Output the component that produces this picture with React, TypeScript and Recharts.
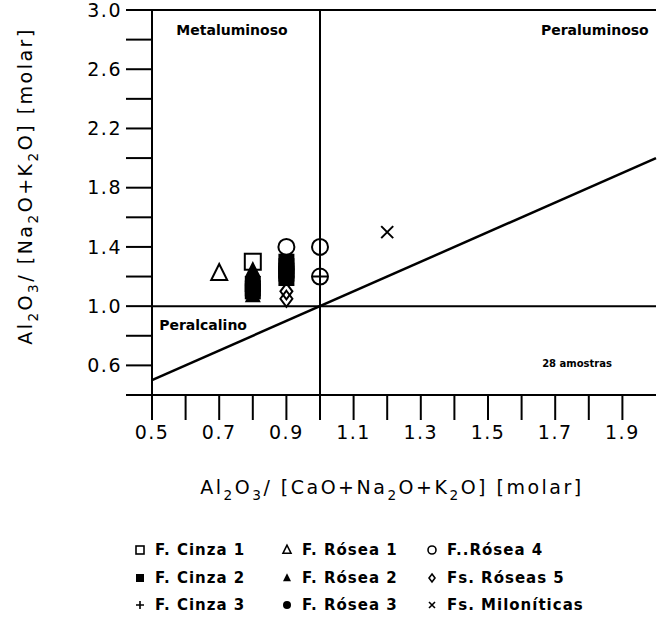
import React from "react";
import { ScatterChart, Scatter, XAxis, YAxis, ReferenceLine, ReferenceDot } from "recharts";

const FONT = '"DejaVu Sans", "Liberation Sans", sans-serif';

// axis ticks
const xTicks = [0.5, 0.6, 0.7, 0.8, 0.9, 1.0, 1.1, 1.2, 1.3, 1.4, 1.5, 1.6, 1.7, 1.8, 1.9];
const xLabels = [0.5, 0.7, 0.9, 1.1, 1.3, 1.5, 1.7, 1.9];
const yTicks = [0.4, 0.6, 0.8, 1.0, 1.2, 1.4, 1.6, 1.8, 2.0, 2.2, 2.4, 2.6, 2.8, 3.0];
const yLabels = [0.6, 1.0, 1.4, 1.8, 2.2, 2.6, 3.0];

// samples (A/CNK, A/NK)
const fCinza1 = [{ x: 0.8, y: 1.3 }];
const fCinza2 = [
    { x: 0.8, y: 1.15 }, { x: 0.8, y: 1.12 }, { x: 0.8, y: 1.1 },
    { x: 0.9, y: 1.3 }, { x: 0.9, y: 1.27 }, { x: 0.9, y: 1.24 },
    { x: 0.9, y: 1.22 }, { x: 0.9, y: 1.19 },
];
const fCinza3 = [{ x: 1.0, y: 1.2 }];
const fRosea1 = [{ x: 0.7, y: 1.22 }];
const fRosea2 = [
    { x: 0.8, y: 1.24 }, { x: 0.8, y: 1.21 }, { x: 0.8, y: 1.18 },
    { x: 0.8, y: 1.14 }, { x: 0.8, y: 1.07 },
];
const fRosea3 = [{ x: 0.9, y: 1.25 }, { x: 0.9, y: 1.2 }];
const fRosea4 = [{ x: 0.9, y: 1.4 }, { x: 1.0, y: 1.4 }, { x: 1.0, y: 1.2 }];
const fsRoseas5 = [{ x: 0.9, y: 1.1 }, { x: 0.9, y: 1.05 }];
const fsMiloniticas = [{ x: 1.2, y: 1.5 }];

const diagonal = [{ x: 0.5, y: 0.5 }, { x: 2.0, y: 2.0 }];

const series = [
    { name: "F. Cinza 1", data: fCinza1, kind: "openSquare" },
    { name: "F. Cinza 2", data: fCinza2, kind: "filledSquare" },
    { name: "F. Cinza 3", data: fCinza3, kind: "plus" },
    { name: "F. Rósea 1", data: fRosea1, kind: "openTriangle" },
    { name: "F. Rósea 2", data: fRosea2, kind: "filledTriangle" },
    { name: "F. Rósea 3", data: fRosea3, kind: "filledCircle" },
    { name: "F..Rósea 4", data: fRosea4, kind: "openCircle" },
    { name: "Fs. Róseas 5", data: fsRoseas5, kind: "diamond" },
    { name: "Fs. Miloníticas", data: fsMiloniticas, kind: "cross" },
];

function Marker({ kind, cx, cy, s, sw = 2 }: { kind: string; cx: number; cy: number; s: number; sw?: number }) {
    const h = s / 2;
    switch (kind) {
        case "openSquare":
            return <rect x={cx - h} y={cy - h} width={s} height={s} fill="none" stroke="#000" strokeWidth={sw} />;
        case "filledSquare":
            return <rect x={cx - h} y={cy - h} width={s} height={s} fill="#000" />;
        case "plus":
            return <path d={`M${cx - h},${cy}H${cx + h}M${cx},${cy - h}V${cy + h}`} stroke="#000" strokeWidth={sw} />;
        case "openTriangle":
            return <polygon points={`${cx},${cy - h * 1.2} ${cx - h},${cy + h * 0.8} ${cx + h},${cy + h * 0.8}`} fill="none" stroke="#000" strokeWidth={sw} />;
        case "filledTriangle":
            return <polygon points={`${cx},${cy - h * 1.2} ${cx - h},${cy + h * 0.8} ${cx + h},${cy + h * 0.8}`} fill="#000" />;
        case "filledCircle":
            return <circle cx={cx} cy={cy} r={h} fill="#000" />;
        case "openCircle":
            return <circle cx={cx} cy={cy} r={h} fill="none" stroke="#000" strokeWidth={sw} />;
        case "diamond":
            return <polygon points={`${cx},${cy - h} ${cx + h * 0.75},${cy} ${cx},${cy + h} ${cx - h * 0.75},${cy}`} fill="none" stroke="#000" strokeWidth={sw} />;
        case "cross":
            return <path d={`M${cx - h * 0.75},${cy - h * 0.75}L${cx + h * 0.75},${cy + h * 0.75}M${cx + h * 0.75},${cy - h * 0.75}L${cx - h * 0.75},${cy + h * 0.75}`} stroke="#000" strokeWidth={sw} />;
        default:
            return null;
    }
}

const has = (list: number[], v: number) => list.some((l) => Math.abs(l - v) < 1e-6);

// text with numeric subscripts (Al2O3 ...)
function Chem({ text, size }: { text: string; size: number }) {
    const parts = text.split(/(\d)/).filter((p) => p !== "");
    const out: React.ReactNode[] = [];
    let low = false;
    parts.forEach((p, i) => {
        const isSub = /^\d$/.test(p);
        let dy = 0;
        if (isSub && !low) dy = size * 0.3;
        if (!isSub && low) dy = -size * 0.3;
        low = isSub;
        out.push(
            <tspan key={i} dy={dy} fontSize={isSub ? size * 0.72 : size}>
                {p}
            </tspan>
        );
    });
    return <>{out}</>;
}

const regionLabels = [
    { text: "Metaluminoso", x: 0.738, y: 2.865, size: 14 },
    { text: "Peraluminoso", x: 1.818, y: 2.865, size: 14 },
    { text: "Peralcalino", x: 0.652, y: 0.872, size: 14 },
    { text: "28 amostras", x: 1.765, y: 0.615, size: 10 },
];

const legendCols = [140, 287, 432];
const legendRows = [550, 578, 605];

export default function App() {
    return (
        <div style={{ position: "relative", width: 663, height: 630, background: "#fff", fontFamily: FONT }}>
            <style>{"body{margin:0}"}</style>
            <ScatterChart width={663} height={630} margin={{ top: 10, right: 7, left: 0, bottom: 175 }}>
                <XAxis
                    type="number"
                    dataKey="x"
                    domain={[0.5, 2.0]}
                    ticks={xTicks}
                    allowDataOverflow
                    height={60}
                    axisLine={{ stroke: "#000", strokeWidth: 2 }}
                    tickLine={{ stroke: "#000", strokeWidth: 2 }}
                    tickSize={25}
                    tickMargin={6}
                    tick={(p: any) =>
                        has(xLabels, p.payload.value) ? (
                            <text x={p.x} y={p.y} dy="0.71em" textAnchor="middle" fontSize={19} fill="#000" fontFamily={FONT} style={{ letterSpacing: "1.5px" }}>
                                {p.payload.value.toFixed(1)}
                            </text>
                        ) : (
                            <g />
                        )
                    }
                />
                <YAxis
                    type="number"
                    dataKey="y"
                    domain={[0.4, 3.0]}
                    ticks={yTicks}
                    allowDataOverflow
                    width={152}
                    axisLine={{ stroke: "#000", strokeWidth: 2 }}
                    tickLine={{ stroke: "#000", strokeWidth: 2 }}
                    tickSize={26}
                    tickMargin={4}
                    tick={(p: any) =>
                        has(yLabels, p.payload.value) ? (
                            <text x={p.x} y={p.y} dy="0.35em" textAnchor="end" fontSize={19} fill="#000" fontFamily={FONT} style={{ letterSpacing: "1.5px" }}>
                                {p.payload.value.toFixed(1)}
                            </text>
                        ) : (
                            <g />
                        )
                    }
                />
                <ReferenceLine y={3.0} stroke="#000" strokeWidth={2} />
                <ReferenceLine y={1.0} stroke="#000" strokeWidth={2} />
                <ReferenceLine x={1.0} stroke="#000" strokeWidth={2} />
                <ReferenceLine segment={diagonal} stroke="#000" strokeWidth={2.5} />
                {regionLabels.map((r) => (
                    <ReferenceDot
                        key={r.text}
                        x={r.x}
                        y={r.y}
                        r={0}
                        fill="none"
                        stroke="none"
                        label={{
                            value: r.text,
                            position: "center",
                            fill: "#000",
                            fontSize: r.size,
                            fontWeight: "bold",
                            fontFamily: FONT,
                        }}
                    />
                ))}
                {series.map((s) => (
                    <Scatter
                        key={s.name}
                        name={s.name}
                        data={s.data}
                        isAnimationActive={false}
                        shape={(p: any) => <Marker kind={s.kind} cx={p.cx} cy={p.cy} s={16} />}
                    />
                ))}
            </ScatterChart>
            <svg width={663} height={630} style={{ position: "absolute", left: 0, top: 0, pointerEvents: "none" }}>
                <text x={392} y={494} textAnchor="middle" fill="#000" fontFamily={FONT} style={{ letterSpacing: "2.5px" }}>
                    <Chem text="Al2O3/ [CaO+Na2O+K2O] [molar]" size={19} />
                </text>
                <text transform="translate(32,186) rotate(-90)" textAnchor="middle" fill="#000" fontFamily={FONT} style={{ letterSpacing: "2.5px" }}>
                    <Chem text="Al2O3/ [Na2O+K2O] [molar]" size={19} />
                </text>
                {series.map((s, i) => {
                    const col = Math.floor(i / 3);
                    const row = i % 3;
                    const cx = legendCols[col];
                    const cy = legendRows[row];
                    return (
                        <g key={s.name}>
                            <Marker kind={s.kind} cx={cx} cy={cy} s={8} sw={1.6} />
                            <text x={cx + 15} y={cy} dy="0.36em" fontSize={15} fontWeight="bold" fill="#000" fontFamily={FONT} style={{ letterSpacing: "1px" }}>
                                {s.name}
                            </text>
                        </g>
                    );
                })}
            </svg>
        </div>
    );
}
